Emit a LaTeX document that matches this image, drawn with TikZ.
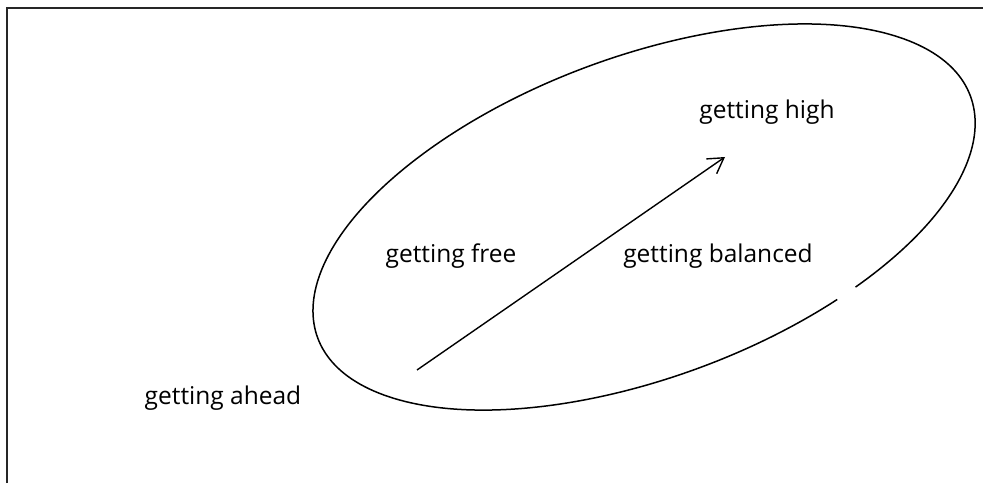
\documentclass[tikz,border=0pt]{standalone}
\usepackage{fontspec}
\setmainfont{Open Sans}
\usetikzlibrary{arrows.meta}
\begin{document}
\begin{tikzpicture}[x=1pt,y=1pt,
  frameline/.style={line width=2pt,draw=black!85},
  ringline/.style={line width=1.5pt},
  flowarrow/.style={line width=1.4pt,-{Straight Barb[length=15pt,width=18pt,line width=1.4pt]}},
  lbl/.style={anchor=base,inner sep=0pt,font=\fontsize{24.5}{28}\selectfont}]
  \useasboundingbox (0,0) rectangle (983,483);

  % open frame: left and top edges only
  \coordinate (fbl) at (7,0);
  \coordinate (ftl) at (7,475);
  \coordinate (ftr) at (983,475);
  \draw[frameline] (fbl) -- (ftl) -- (ftr);

  % tilted ellipse, left open at its lower right
  \coordinate (ringstart) at (855.5,195.9);
  \draw[ringline] (ringstart) [rotate=20.3]
    arc[start angle=-60,end angle=296,x radius=348,y radius=160.6];

  % labels
  \node[lbl] (high) at (767,364) {getting high};
  \node[lbl] (free) at (451,221) {getting free};
  \node[lbl] (balanced) at (718,221) {getting balanced};
  \node[lbl] (ahead) at (223,79) {getting ahead};

  % arrow through the ellipse
  \coordinate (arrtail) at (417,113);
  \coordinate (arrhead) at (725,326);
  \draw[flowarrow] (arrtail) -- (arrhead);
\end{tikzpicture}
\end{document}
